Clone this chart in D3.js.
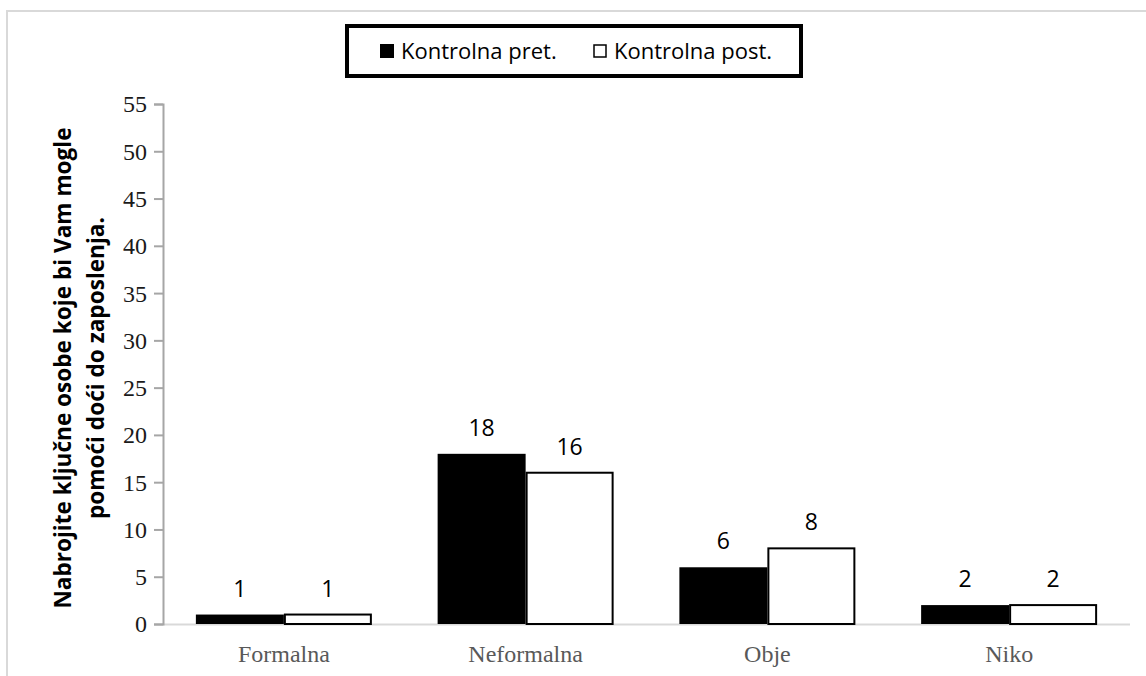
<!DOCTYPE html>
<html>
<head>
<meta charset="utf-8">
<script src="https://cdn.jsdelivr.net/npm/d3@7"></script>
<style>
  html, body { margin: 0; padding: 0; background: #fff; }
  svg { display: block; }
</style>
</head>
<body>
<svg id="chart" width="1146" height="676"></svg>
<script>
// Response counts for the control group, before and after
const categories = ["Formalna", "Neformalna", "Obje", "Niko"];
const seriesNames = ["Kontrolna pret.", "Kontrolna post."];
const pretValues = [1, 18, 6, 2];
const postValues = [1, 16, 8, 2];
const yTicks = [0, 5, 10, 15, 20, 25, 30, 35, 40, 45, 50, 55];
const yTitleLines = ["Nabrojite ključne osobe koje bi Vam mogle", "pomoći doći do zaposlenja."];

const svg = d3.select("#chart");
const W = 1146, H = 676;
const plot = { left: 163, right: 1130, top: 104, bottom: 624 };
const sans = "'Open Sans', 'Noto Sans', sans-serif";
const serif = "'Liberation Serif', 'Times New Roman', serif";

// Outer frame (left and top edges)
svg.append("path")
  .attr("d", `M7,${H} L7,11 L${W},11`)
  .attr("fill", "none").attr("stroke", "#d9d9d9").attr("stroke-width", 2);

const x0 = d3.scaleBand().domain(categories).range([plot.left, plot.right]).paddingInner(0.272).paddingOuter(0.136);
const x1 = d3.scaleBand().domain(seriesNames).range([0, x0.bandwidth()]);
const y = d3.scaleLinear().domain([0, 55]).range([plot.bottom, plot.top]);

// Category baseline
svg.append("line")
  .attr("x1", plot.left).attr("x2", plot.right)
  .attr("y1", y(0) + 0.5).attr("y2", y(0) + 0.5)
  .attr("stroke", "#d9d9d9").attr("stroke-width", 2);

// Bars
const rows = categories.map((c, i) => ({ cat: c, vals: [pretValues[i], postValues[i]] }));
const fills = ["#000000", "#ffffff"];
const groups = svg.append("g").selectAll("g").data(rows).join("g")
  .attr("transform", d => `translate(${x0(d.cat)},0)`);

groups.selectAll("rect").data(d => d.vals.map((v, k) => ({ v, k }))).join("rect")
  .attr("x", d => x1(seriesNames[d.k]) + (d.k === 1 ? 1 : 0))
  .attr("y", d => y(d.v))
  .attr("width", d => x1.bandwidth() - (d.k === 1 ? 2 : 0))
  .attr("height", d => y(0) - y(d.v))
  .attr("fill", d => fills[d.k])
  .attr("stroke", "#000").attr("stroke-width", d => d.k === 1 ? 2 : 0);

// Value labels
groups.selectAll("text").data(d => d.vals.map((v, k) => ({ v, k }))).join("text")
  .attr("x", d => x1(seriesNames[d.k]) + x1.bandwidth() / 2)
  .attr("y", d => y(d.v) - 18)
  .attr("text-anchor", "middle")
  .attr("font-family", sans)
  .attr("font-size", 23).attr("fill", "#000")
  .text(d => d.v);

// Y axis
const yAxis = svg.append("g").attr("transform", `translate(${plot.left},0)`)
  .call(d3.axisLeft(y).tickValues(yTicks).tickSize(9).tickPadding(7));
yAxis.select(".domain").attr("stroke", "#a6a6a6").attr("stroke-width", 2);
yAxis.selectAll(".tick line").attr("stroke", "#a6a6a6").attr("stroke-width", 2);
yAxis.selectAll(".tick text")
  .attr("font-family", serif)
  .attr("font-size", 24).attr("fill", "#1a1a1a").attr("dy", "0.33em");

// X category labels
svg.append("g").selectAll("text").data(categories).join("text")
  .attr("x", d => x0(d) + x0.bandwidth() / 2)
  .attr("y", 662)
  .attr("text-anchor", "middle")
  .attr("font-family", serif)
  .attr("font-size", 24).attr("fill", "#595959")
  .text(d => d);

// Y axis title
const yt = svg.append("text")
  .attr("transform", "translate(71,368) rotate(-90)")
  .attr("text-anchor", "middle")
  .attr("font-family", sans)
  .attr("font-weight", "bold").attr("font-size", 22.6).attr("fill", "#000");
yt.selectAll("tspan").data(yTitleLines).join("tspan")
  .attr("x", 0).attr("y", (d, i) => i * 33)
  .text(d => d);

// Legend
const lg = svg.append("g");
lg.append("rect").attr("x", 347).attr("y", 26).attr("width", 454).attr("height", 50)
  .attr("fill", "#fff").attr("stroke", "#000").attr("stroke-width", 4);
const legendX = [380, 593];
seriesNames.forEach((name, k) => {
  lg.append("rect").attr("x", legendX[k] + (k ? 1 : 0)).attr("y", 44 + (k ? 1 : 0))
    .attr("width", k ? 12 : 14).attr("height", k ? 12 : 14)
    .attr("fill", fills[k]).attr("stroke", "#000").attr("stroke-width", k ? 1.5 : 0);
  lg.append("text").attr("x", legendX[k] + 21).attr("y", 59)
    .attr("font-family", sans)
    .attr("font-size", 22).attr("fill", "#000")
    .text(name);
});
</script>
</body>
</html>
